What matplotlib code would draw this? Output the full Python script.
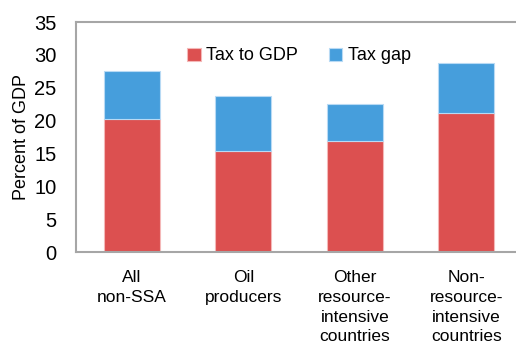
import numpy as np
import matplotlib
matplotlib.use("Agg")
import matplotlib.pyplot as plt

plt.rcParams['font.family'] = ['Liberation Sans', 'DejaVu Sans']

categories = ["All\nnon-SSA", "Oil\nproducers", "Other\nresource-\nintensive\ncountries",
              "Non-\nresource-\nintensive\ncountries"]
tax_to_gdp = [20.2, 15.4, 16.9, 21.1]
tax_gap = [7.3, 8.3, 5.6, 7.7]

red = "#dc5050"
blue = "#469edc"

fig = plt.figure(figsize=(5.16, 3.46), dpi=100)
ax = fig.add_axes([76 / 516, 1 - 252 / 346, 446 / 516, 230 / 346])

x = np.arange(len(categories))
ax.bar(x, tax_to_gdp, width=0.5, color=red, edgecolor="#f4b8b8", linewidth=0.8, label="Tax to GDP")
ax.bar(x, tax_gap, width=0.5, bottom=tax_to_gdp, color=blue, edgecolor="#b8daf4",
       linewidth=0.8, label="Tax gap")

ax.set_xlim(-0.5, 3.5)
ax.set_ylim(0, 35)
ax.set_yticks(range(0, 36, 5))
ax.set_xticks(x)
ax.set_xticklabels(categories, fontsize=12.5, linespacing=1.4, va="top")
ax.tick_params(axis="y", length=0, pad=14, labelsize=14.5)
ax.tick_params(axis="x", length=0, pad=13)
ax.set_ylabel("Percent of GDP", fontsize=13, labelpad=3)

for s in ax.spines.values():
    s.set_color("#a6a6a6")
    s.set_linewidth(1.5)

ax.legend(loc="upper center", bbox_to_anchor=(0.5, 0.96), ncol=2, frameon=False,
          fontsize=13, handlelength=0.75, handleheight=0.75, handletextpad=0.3,
          columnspacing=1.7)

fig.savefig("out.png", dpi=100)
